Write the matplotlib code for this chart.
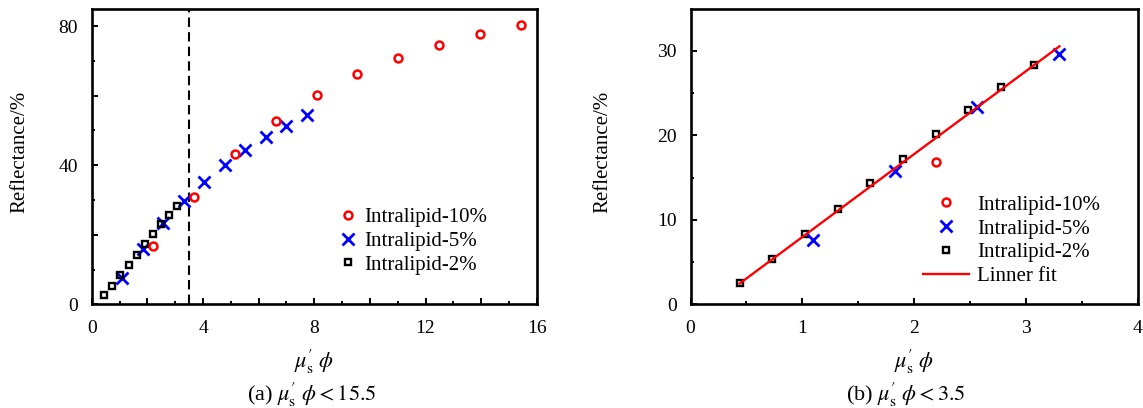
import numpy as np
import matplotlib
matplotlib.use("Agg")
import matplotlib.pyplot as plt
from matplotlib.ticker import MultipleLocator

plt.rcParams['font.family'] = ['Liberation Serif', 'DejaVu Serif']
plt.rcParams['mathtext.fontset'] = 'stix'

# ---- data ----
red_label = "Intralipid-10%"
blue_label = "Intralipid-5%"
black_label = "Intralipid-2%"
fit_label = "Linner fit"

red_x = [2.20, 3.67, 5.15, 6.62, 8.09, 9.55, 11.02, 12.50, 13.97, 15.44]
red_y = [16.8, 30.9, 43.1, 52.6, 60.3, 66.1, 70.9, 74.5, 77.6, 80.4]
blue_x = [1.10, 1.83, 2.56, 3.30, 4.04, 4.78, 5.52, 6.26, 6.99, 7.73]
blue_y = [7.6, 15.8, 23.3, 29.6, 35.2, 40.1, 44.4, 48.1, 51.4, 54.3]
black_x = [0.44, 0.73, 1.02, 1.32, 1.61, 1.90, 2.20, 2.48, 2.78, 3.07]
black_y = [2.56, 5.39, 8.34, 11.28, 14.30, 17.25, 20.13, 23.00, 25.67, 28.35]

cutoff = 3.5
left_xticks = [0, 2, 4, 6, 8, 10, 12, 14, 16]
left_xticklabels = ['0', '', '4', '', '8', '', '12', '', '16']
left_yticks = [0, 20, 40, 60, 80]
left_yticklabels = ['0', '', '40', '', '80']
right_xticks = [0, 1, 2, 3, 4]
right_yticks = [0, 10, 20, 30]

xlabel = r"$\mu_{\rm s}^{\prime}\ \phi$"
cap_a = r"(a) $\mu_{\rm s}^{\prime}\ \phi<15.5$"
cap_b = r"(b) $\mu_{\rm s}^{\prime}\ \phi<3.5$"
ylabel = "Reflectance/%"

W, H = 1143, 408
fig = plt.figure(figsize=(W / 100, H / 100), dpi=100)

def fx(px):
    return px / W

def fy(py):
    return 1 - py / H

axL = fig.add_axes([fx(91.8), fy(304.4), (536.8 - 91.8) / W, (304.4 - 9.3) / H])
axR = fig.add_axes([fx(690.5), fy(304.4), (1137.7 - 690.5) / W, (304.4 - 9.3) / H])

red_kw = dict(ls='none', marker='o', ms=5.7, mfc='none', mec='#ff0000', mew=1.8)
blue_kw = dict(ls='none', marker='x', ms=8.5, mec='#0000ff', mew=2.0)
black_kw = dict(ls='none', marker='s', ms=4.9, mfc='none', mec='black', mew=1.7)

for ax in (axL, axR):
    for s in ax.spines.values():
        s.set_linewidth(1.9)
    ax.tick_params(which='both', direction='in', top=False, right=False,
                   labelsize=14, width=1.4)
    ax.tick_params(which='major', length=4)
    ax.tick_params(which='minor', length=2)
    ax.tick_params(axis='x', pad=11)
    ax.tick_params(axis='y', pad=10)

# ---- left panel ----
axL.plot(red_x, red_y, label=red_label, zorder=4, **red_kw)
axL.plot(blue_x, blue_y, label=blue_label, zorder=2, **blue_kw)
axL.plot(black_x, black_y, label=black_label, zorder=3, **black_kw)
axL.axvline(cutoff, color='black', lw=1.5, ls=(0, (4.5, 2.5)), zorder=1)
axL.set_xlim(0, 16)
axL.set_ylim(0, 84.8)
axL.set_xticks(left_xticks)
axL.set_xticklabels(left_xticklabels)
axL.set_yticks(left_yticks)
axL.set_yticklabels(left_yticklabels)
axL.xaxis.set_minor_locator(MultipleLocator(1))
axL.yaxis.set_minor_locator(MultipleLocator(10))

legL = axL.legend(loc='upper left', bbox_to_anchor=(fx(339.6), fy(207.5)),
                  bbox_transform=fig.transFigure, frameon=False, fontsize=15,
                  borderpad=0, borderaxespad=0, handlelength=0.84,
                  handletextpad=0.36, labelspacing=0.2, numpoints=1)

# ---- right panel ----
rx = [x for x in red_x if x < cutoff]
ry = [y for x, y in zip(red_x, red_y) if x < cutoff]
bx = [x for x in blue_x if x < cutoff]
by = [y for x, y in zip(blue_x, blue_y) if x < cutoff]
kx = [x for x in black_x if x < cutoff]
ky = [y for x, y in zip(black_x, black_y) if x < cutoff]

fit_x_all = np.array(kx + bx)
fit_y_all = np.array(ky + by)
slope, intercept = np.polyfit(fit_x_all, fit_y_all, 1)
fx_line = np.array([fit_x_all.min(), fit_x_all.max()])

axR.plot(rx, ry, label=red_label, zorder=3, **red_kw)
axR.plot(bx, by, label=blue_label, zorder=3, **blue_kw)
axR.plot(kx, ky, label=black_label, zorder=2, **black_kw)
axR.plot(fx_line, slope * fx_line + intercept, color='#ff0000', lw=1.7,
         label=fit_label, zorder=4)
axR.set_xlim(0, 4)
axR.set_ylim(0, 34.9)
axR.set_xticks(right_xticks)
axR.set_yticks(right_yticks)
axR.xaxis.set_minor_locator(MultipleLocator(0.5))
axR.yaxis.set_minor_locator(MultipleLocator(5))

legR = axR.legend(loc='upper left', bbox_to_anchor=(fx(922.7), fy(195.2)),
                  bbox_transform=fig.transFigure, frameon=False, fontsize=15,
                  borderpad=0, borderaxespad=0, handlelength=2.24,
                  handletextpad=0.36, labelspacing=0.2, numpoints=1)

# ---- labels ----
fig.text(fx(19.8), fy(152), ylabel, rotation=90, ha='center', va='center', fontsize=15)
fig.text(fx(603), fy(152), ylabel, rotation=90, ha='center', va='center', fontsize=15)
fig.text(fx(314.3), fy(361.7), xlabel, ha='center', va='center', fontsize=16)
fig.text(fx(914), fy(361.7), xlabel, ha='center', va='center', fontsize=16)
fig.text(fx(312), fy(395), cap_a, ha='center', va='center', fontsize=16)
fig.text(fx(906), fy(395), cap_b, ha='center', va='center', fontsize=16)

fig.savefig("out.png", dpi=100)
